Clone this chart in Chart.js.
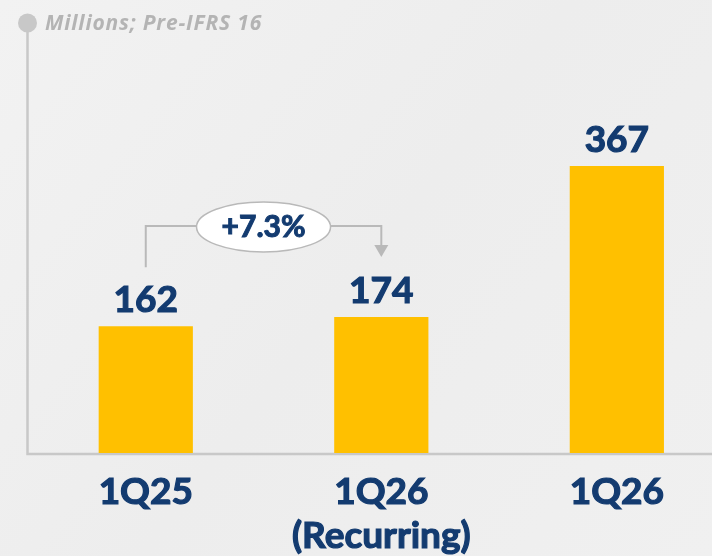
<!DOCTYPE html>
<html>
<head>
<meta charset="utf-8">
<script src="https://cdn.jsdelivr.net/npm/chart.js@4.4.1/dist/chart.umd.min.js"></script>
<style>
  html, body { margin:0; padding:0; background:#efefef; }
  #wrap { width:712px; height:556px; position:relative; }
</style>
</head>
<body>
<div id="wrap"><canvas id="ebitda"></canvas></div>
<script>
/* bar chart - quarterly figures with growth bubble */
const categories = [['1Q25'], ['1Q26', '(Recurring)'], ['1Q26']];
const values = [162, 174, 367];
const growthLabel = '+7.3%';
const unitNote = 'Millions; Pre-IFRS 16';

const NAVY = '#133b70';
const GOLD = '#ffc000';
const GREY = '#c8c8c8';

const decor = {
  id: 'decor',
  beforeDraw(chart) {
    const { ctx, width, height } = chart;
    ctx.save();
    const g = ctx.createLinearGradient(0, 0, width, height);
    g.addColorStop(0, '#f2f2f2');
    g.addColorStop(0.5, '#ededed');
    g.addColorStop(1, '#f0f0f0');
    ctx.fillStyle = g;
    ctx.fillRect(0, 0, width, height);
    ctx.restore();
  },
  beforeDatasetsDraw(chart) {
    const { ctx, chartArea: a } = chart;
    ctx.save();
    ctx.strokeStyle = GREY;
    ctx.lineWidth = 2.5;
    // left axis with dot, base line
    ctx.beginPath();
    ctx.moveTo(a.left - 0.5, 23);
    ctx.lineTo(a.left - 0.5, a.bottom + 1);
    ctx.lineTo(chart.width, a.bottom + 1);
    ctx.stroke();
    ctx.fillStyle = GREY;
    ctx.beginPath();
    ctx.arc(a.left - 0.5, 23, 9.5, 0, Math.PI * 2);
    ctx.fill();
    ctx.fillStyle = '#b4b4b4';
    ctx.font = 'italic bold 21px "Open Sans"';
    ctx.letterSpacing = '0.8px';
    ctx.textBaseline = 'alphabetic';
    ctx.fillText(unitNote, 45, 30);
    ctx.restore();
  },
  afterDatasetsDraw(chart) {
    const { ctx } = chart;
    const bars = chart.getDatasetMeta(0).data;
    ctx.save();
    ctx.fillStyle = NAVY;
    ctx.strokeStyle = NAVY;
    ctx.lineWidth = 1.2;
    ctx.font = 'bold 37px Lato';
    ctx.textAlign = 'center';
    ctx.textBaseline = 'alphabetic';
    bars.forEach((b, i) => {
      ctx.fillText(String(values[i]), b.x, b.y - 14);
      ctx.strokeText(String(values[i]), b.x, b.y - 14);
    });

    // growth bracket between first two bars
    const b0 = bars[0], b1 = bars[1];
    const topY = b1.y - 91;
    const cx = (b0.x + b1.x) / 2;
    const rx = 67, ry = 25;
    ctx.strokeStyle = '#b9b9b9';
    ctx.lineWidth = 2;
    ctx.beginPath();
    ctx.moveTo(b0.x, b0.y - 59);
    ctx.lineTo(b0.x, topY);
    ctx.lineTo(cx - rx, topY);
    ctx.moveTo(cx + rx, topY);
    ctx.lineTo(b1.x, topY);
    ctx.lineTo(b1.x, b1.y - 70);
    ctx.stroke();
    ctx.fillStyle = '#b9b9b9';
    ctx.beginPath();
    ctx.moveTo(b1.x - 7, b1.y - 72);
    ctx.lineTo(b1.x + 7, b1.y - 72);
    ctx.lineTo(b1.x, b1.y - 60);
    ctx.closePath();
    ctx.fill();

    ctx.fillStyle = '#ffffff';
    ctx.beginPath();
    ctx.ellipse(cx, topY + 1, rx, ry, 0, 0, Math.PI * 2);
    ctx.fill();
    ctx.lineWidth = 1.5;
    ctx.stroke();
    ctx.fillStyle = NAVY;
    ctx.strokeStyle = NAVY;
    ctx.lineWidth = 1;
    ctx.font = 'bold 30px Lato';
    ctx.textBaseline = 'middle';
    ctx.fillText(growthLabel, cx, topY + 1);
    ctx.strokeText(growthLabel, cx, topY + 1);
    ctx.restore();
  }
};

new Chart(document.getElementById('ebitda'), {
  type: 'bar',
  data: {
    datasets: [{
      data: values.map((v, i) => ({ x: i, y: v })),
      backgroundColor: GOLD,
      borderWidth: 0,
      barPercentage: 0.4,
      categoryPercentage: 1
    }]
  },
  options: {
    responsive: true,
    maintainAspectRatio: false,
    animation: false,
    layout: { padding: { left: 28, top: 15, right: 0, bottom: 0 } },
    plugins: { legend: { display: false }, tooltip: { enabled: false } },
    scales: {
      x: {
        type: 'linear',
        offset: false,
        min: -0.5,
        max: 2.404,
        grid: { display: false, drawTicks: false },
        border: { display: false },
        afterBuildTicks: (s) => { s.ticks = categories.map((_, i) => ({ value: i })); },
        afterFit: (s) => { s.height = 103; },
        ticks: {
          autoSkip: false,
          maxRotation: 0,
          padding: 17,
          color: NAVY,
          textStrokeColor: NAVY,
          textStrokeWidth: 1.2,
          font: { family: 'Lato', weight: 'bold', size: 37, lineHeight: 1.19 },
          callback: (v) => categories[v]
        }
      },
      y: {
        display: false,
        min: 0,
        max: 560
      }
    }
  },
  plugins: [decor]
});
</script>
</body>
</html>
